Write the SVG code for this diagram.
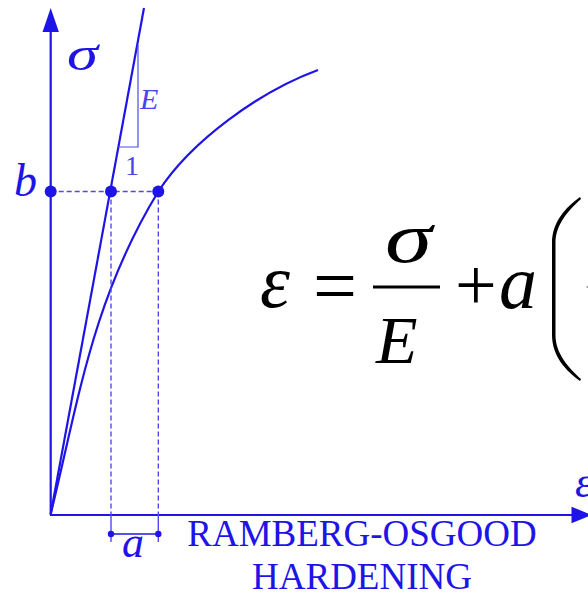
<svg xmlns="http://www.w3.org/2000/svg" width="588" height="593" viewBox="0 0 588 593">
<defs>
<style>
.ax{stroke:#1f14e6;stroke-width:2.2;fill:none}
.ln{stroke:#1f14e6;stroke-width:2.2;fill:none}
.dash{stroke:#4f4aee;stroke-width:1.4;stroke-dasharray:5,3;fill:none}
.thin{stroke:#4f4aee;stroke-width:1.4;fill:none}
.dot{fill:#1f14e6}
.lbl{fill:#1f14e6;font-family:"Liberation Serif","Times New Roman",serif;font-style:italic}
.lbl2{fill:#4a44ec;font-family:"Liberation Serif","Times New Roman",serif}
.cap{fill:#1f14e6;font-family:"Liberation Serif","Times New Roman",serif;font-size:37px;text-anchor:middle}
.fm{fill:#000;font-family:"Liberation Serif","Times New Roman",serif}
</style>
</defs>
<rect width="588" height="593" fill="#fff"/>
<g id="axes">
<line class="ax" x1="50.7" y1="515" x2="50.7" y2="30"/>
<polygon class="dot" points="50.7,8 42.5,32 58.9,32"/>
<line class="ax" x1="50" y1="515" x2="573" y2="515"/>
<polygon class="dot" points="592,515 571.5,506.7 571.5,523.3"/>
<text class="lbl" x="67" y="70" font-size="48" textLength="31" lengthAdjust="spacingAndGlyphs">σ</text>
<text class="lbl" x="575" y="497" font-size="44">ε</text>
</g>
<g id="connectors">
<line class="ln" x1="50.7" y1="514" x2="144" y2="8"/>
<path class="ln" d="M50.7,514 C78,403 92,300 158.3,191.5 C190.8,141.5 258,92.2 318,70"/>
<line class="dash" x1="50.7" y1="191.5" x2="158.3" y2="191.5"/>
<line class="dash" x1="111" y1="191.5" x2="111" y2="515"/>
<line class="dash" x1="158.3" y1="191.5" x2="158.3" y2="515"/>
<line class="thin" x1="111" y1="515" x2="111" y2="542"/>
<line class="thin" x1="158.3" y1="515" x2="158.3" y2="542"/>
<line class="ln" x1="111" y1="534" x2="158.3" y2="534" style="stroke-width:1.5"/>
<polyline class="thin" points="118,147 138,147 138,45" style="stroke-width:1.2"/>
</g>
<g id="points">
<circle class="dot" cx="50.7" cy="191.5" r="6"/>
<circle class="dot" cx="111" cy="191.5" r="6"/>
<circle class="dot" cx="158.3" cy="191.5" r="6"/>
<circle class="dot" cx="111" cy="534" r="3.2"/>
<circle class="dot" cx="158.3" cy="534" r="3.2"/>
</g>
<g id="labels">
<text class="lbl" x="14" y="196" font-size="46">b</text>
<text class="lbl" x="122" y="557" font-size="44">a</text>
<text class="lbl2" x="140" y="109" font-size="30" font-style="italic">E</text>
<text class="lbl2" x="132" y="175" font-size="28" text-anchor="middle">1</text>
<text class="cap" x="362" y="546">RAMBERG-OSGOOD</text>
<text class="cap" x="362" y="589">HARDENING</text>
</g>
<g id="formula">
<text class="fm" x="260" y="307" font-size="76" font-style="italic">ε</text>
<text class="fm" x="313" y="312" font-size="78">=</text>
<text class="fm" x="385" y="262" font-size="72" font-style="italic" textLength="47" lengthAdjust="spacingAndGlyphs">σ</text>
<line x1="373" y1="287" x2="440" y2="287" stroke="#000" stroke-width="3"/>
<text class="fm" x="376" y="363" font-size="68" font-style="italic">E</text>
<text class="fm" x="455" y="310" font-size="74">+</text>
<text class="fm" x="499" y="308" font-size="76" font-style="italic">a</text>
<path fill="#000" d="M580,197 C566,207 552,222 552,243 L552,335 C552,356 566,371 580,381 L581,379 C569,368 555.5,354 555.5,335 L555.5,243 C555.5,224 569,210 581,199 Z"/>
<line x1="586.5" y1="287" x2="588" y2="287" stroke="#888" stroke-width="1.5"/>
</g>
</svg>
